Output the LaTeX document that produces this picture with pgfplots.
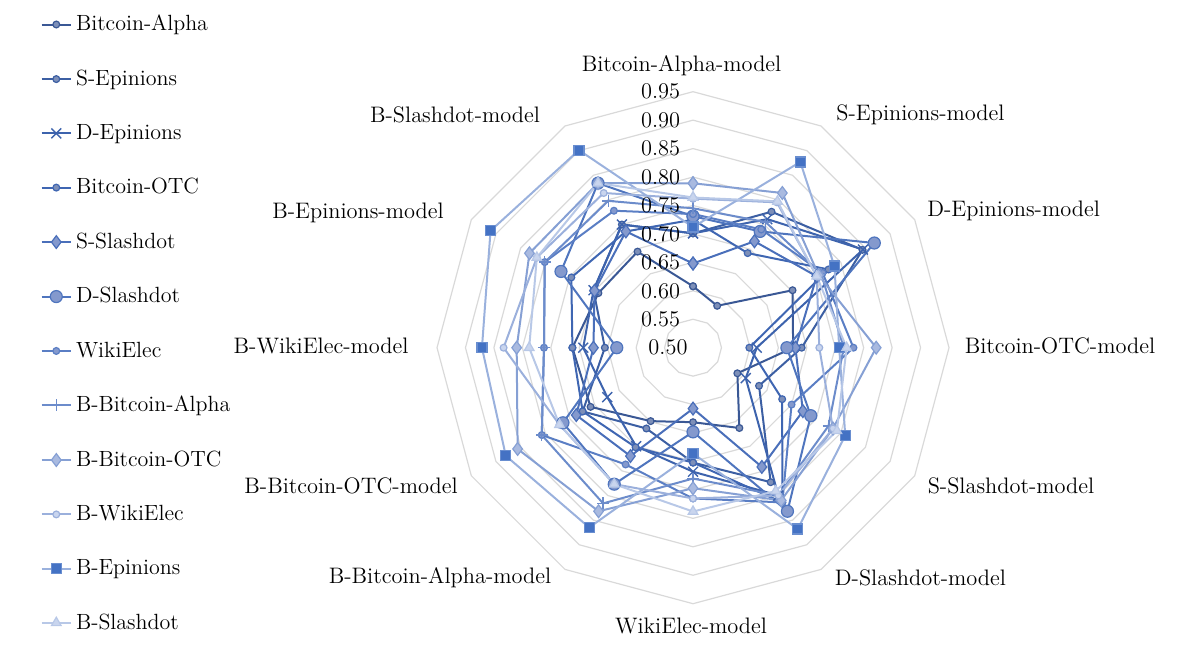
\documentclass[border=0pt]{standalone}
\usepackage{pgfplots}
\pgfplotsset{compat=1.18}
\usepackage{pgfplotstable}

\definecolor{lBA}{HTML}{3A5895}
\definecolor{lSE}{HTML}{3C5FA3}
\definecolor{lDE}{HTML}{3D63AD}
\definecolor{lBO}{HTML}{3F66B2}
\definecolor{lSS}{HTML}{4A6FBA}
\definecolor{lDS}{HTML}{4F75BE}
\definecolor{lWE}{HTML}{5A7EC4}
\definecolor{lBBA}{HTML}{6C8CCB}
\definecolor{lBBO}{HTML}{86A0D4}
\definecolor{lBWE}{HTML}{9BB0DC}
\definecolor{lBEP}{HTML}{9AB1DD}
\definecolor{lBSD}{HTML}{B8C8E7}
\definecolor{mfill}{HTML}{7D8FB8}
\definecolor{mfill2}{HTML}{8499CD}
\definecolor{mfill3}{HTML}{A9BAE0}
\definecolor{mfill4}{HTML}{C9D5EE}
\definecolor{sq}{HTML}{4472C4}
\definecolor{ring}{HTML}{D9D9D9}

% rows: model axes, clockwise from the top; last row closes the polygon
\pgfplotstableread{
ang  BA    SE    DE    BO    SS    DS    WE    BBA   BBO   BWE   BEP   BSD
90   0.608 0.701 0.701 0.725 0.648 0.731 0.735 0.745 0.789 0.762 0.712 0.764
60   0.585 0.776 0.761 0.692 0.716 0.736 0.740 0.755 0.814 0.795 0.877 0.797
30   0.702 0.844 0.845 0.775 0.751 0.868 0.763 0.760 0.755 0.751 0.787 0.751
0    0.676 0.691 0.612 0.599 0.680 0.665 0.782 0.765 0.822 0.722 0.757 0.770
-30  0.590 0.634 0.607 0.681 0.723 0.739 0.700 0.775 0.784 0.784 0.809 0.792
-60  0.663 0.773 0.800 0.814 0.742 0.832 0.814 0.800 0.810 0.800 0.868 0.791
-90  0.631 0.702 0.718 0.702 0.607 0.648 0.765 0.730 0.747 0.765 0.686 0.788
-120 0.649 0.664 0.700 0.702 0.720 0.777 0.737 0.816 0.832 0.777 0.865 0.777
-150 0.708 0.724 0.674 0.724 0.737 0.764 0.807 0.807 0.856 0.771 0.880 0.771
-180 0.712 0.655 0.693 0.712 0.675 0.634 0.762 0.762 0.810 0.833 0.871 0.788
-210 0.692 0.702 0.702 0.747 0.700 0.768 0.801 0.801 0.832 0.817 0.911 0.817
-240 0.695 0.750 0.750 0.736 0.736 0.834 0.778 0.798 0.834 0.814 0.901 0.834
-270 0.608 0.701 0.701 0.725 0.648 0.731 0.735 0.745 0.789 0.762 0.712 0.764
}\data

\begin{document}
\begin{tikzpicture}
\begin{axis}[
  x=284.45pt, y=284.45pt, scale only axis,
  xmin=-1.2182, xmax=0.8578, ymin=-0.5314, ymax=0.6112,
  hide axis, clip=false,
  every axis plot/.append style={line width=1pt},
  legend style={draw=none, fill=none, at={(axis cs:-1.1477,0.5923)}, anchor=north west,
    font=\fontsize{11}{13}\selectfont, row sep=14pt, inner sep=0pt},
  legend cell align=left,
  legend image code/.code={\draw[mark repeat=2,mark phase=2] plot coordinates {(0cm,0cm) (0.26cm,0cm) (0.52cm,0cm)};},
]
\path (rel axis cs:0,0) rectangle (rel axis cs:1,1);
% gridlines
\pgfplotsinvokeforeach{0.55,0.60,0.65,0.70,0.75,0.80,0.85,0.90,0.95}{
  \addplot[ring, line width=0.6pt, data cs=polar, forget plot, no marks]
    table[x=ang, y expr=#1-0.5] {\data};
}
\addplot[lBA, data cs=polar, mark=*, mark size=1.7pt, mark options={fill=mfill, draw=lBA, line width=0.6pt}]
  table[x=ang, y expr=\thisrow{BA}-0.5] {\data};
\addplot[lSE, data cs=polar, mark=*, mark size=1.7pt, mark options={fill=mfill, draw=lSE, line width=0.6pt}]
  table[x=ang, y expr=\thisrow{SE}-0.5] {\data};
\addplot[lDE, data cs=polar, mark=x, mark size=3.5pt, mark options={draw=lDE, line width=0.7pt}]
  table[x=ang, y expr=\thisrow{DE}-0.5] {\data};
\addplot[lBO, data cs=polar, mark=*, mark size=1.7pt, mark options={fill=mfill, draw=lBO, line width=0.6pt}]
  table[x=ang, y expr=\thisrow{BO}-0.5] {\data};
\addplot[lSS, data cs=polar, mark=diamond*, mark size=3.2pt, mark options={fill=mfill2, draw=lSS, line width=0.6pt}]
  table[x=ang, y expr=\thisrow{SS}-0.5] {\data};
\addplot[lDS, data cs=polar, mark=*, mark size=3pt, mark options={fill=mfill2, draw=lDS, line width=0.6pt}]
  table[x=ang, y expr=\thisrow{DS}-0.5] {\data};
\addplot[lWE, data cs=polar, mark=*, mark size=1.7pt, mark options={fill=mfill2, draw=lWE, line width=0.6pt}]
  table[x=ang, y expr=\thisrow{WE}-0.5] {\data};
\addplot[lBBA, data cs=polar, mark=+, mark size=3pt, mark options={draw=lBBA, line width=0.7pt}]
  table[x=ang, y expr=\thisrow{BBA}-0.5] {\data};
\addplot[lBBO, data cs=polar, mark=diamond*, mark size=3.2pt, mark options={fill=mfill3, draw=lBBO, line width=0.6pt}]
  table[x=ang, y expr=\thisrow{BBO}-0.5] {\data};
\addplot[lBWE, data cs=polar, mark=*, mark size=1.7pt, mark options={fill=mfill4, draw=lBWE, line width=0.6pt}]
  table[x=ang, y expr=\thisrow{BWE}-0.5] {\data};
\addplot[lBEP, data cs=polar, mark=square*, mark size=2.5pt, mark options={fill=sq, draw=sq!80!white, line width=0.6pt}]
  table[x=ang, y expr=\thisrow{BEP}-0.5] {\data};
\addplot[lBSD, data cs=polar, mark=triangle*, mark size=2.8pt, mark options={fill=mfill4, draw=lBSD, line width=0.6pt}]
  table[x=ang, y expr=\thisrow{BSD}-0.5] {\data};
\legend{Bitcoin-Alpha,S-Epinions,D-Epinions,Bitcoin-OTC,S-Slashdot,D-Slashdot,WikiElec,B-Bitcoin-Alpha,B-Bitcoin-OTC,B-WikiElec,B-Epinions,B-Slashdot}
% radial tick labels
\begin{scope}[every node/.style={font=\fontsize{11.2}{13}\selectfont, anchor=east, inner sep=0pt}]
\node at (axis cs:-0.009,0.00) {0.50};
\node at (axis cs:-0.022,0.05) {0.55};
\node at (axis cs:-0.022,0.10) {0.60};
\node at (axis cs:-0.022,0.15) {0.65};
\node at (axis cs:-0.022,0.20) {0.70};
\node at (axis cs:-0.022,0.25) {0.75};
\node at (axis cs:-0.022,0.30) {0.80};
\node at (axis cs:-0.022,0.35) {0.85};
\node at (axis cs:-0.022,0.40) {0.90};
\node at (axis cs:-0.022,0.45) {0.95};
\end{scope}
% category labels
\begin{scope}[every node/.style={font=\fontsize{11.2}{13}\selectfont, inner sep=0pt}]
\node at (axis cs:-0.0202,0.4952) {Bitcoin-Alpha-model};
\node at (axis cs:0.3998,0.4090) {S-Epinions-model};
\node at (axis cs:0.5636,0.2403) {D-Epinions-model};
\node at (axis cs:0.6450,0.0030) {Bitcoin-OTC-model};
\node at (axis cs:0.5590,-0.2431) {S-Slashdot-model};
\node at (axis cs:0.3998,-0.4048) {D-Slashdot-model};
\node at (axis cs:-0.0035,-0.4892) {WikiElec-model};
\node at (axis cs:-0.4447,-0.4048) {B-Bitcoin-Alpha-model};
\node at (axis cs:-0.6011,-0.2431) {B-Bitcoin-OTC-model};
\node at (axis cs:-0.6538,0.0030) {B-WikiElec-model};
\node at (axis cs:-0.5889,0.2368) {B-Epinions-model};
\node at (axis cs:-0.4183,0.4090) {B-Slashdot-model};
\end{scope}
\end{axis}
\end{tikzpicture}
\end{document}
